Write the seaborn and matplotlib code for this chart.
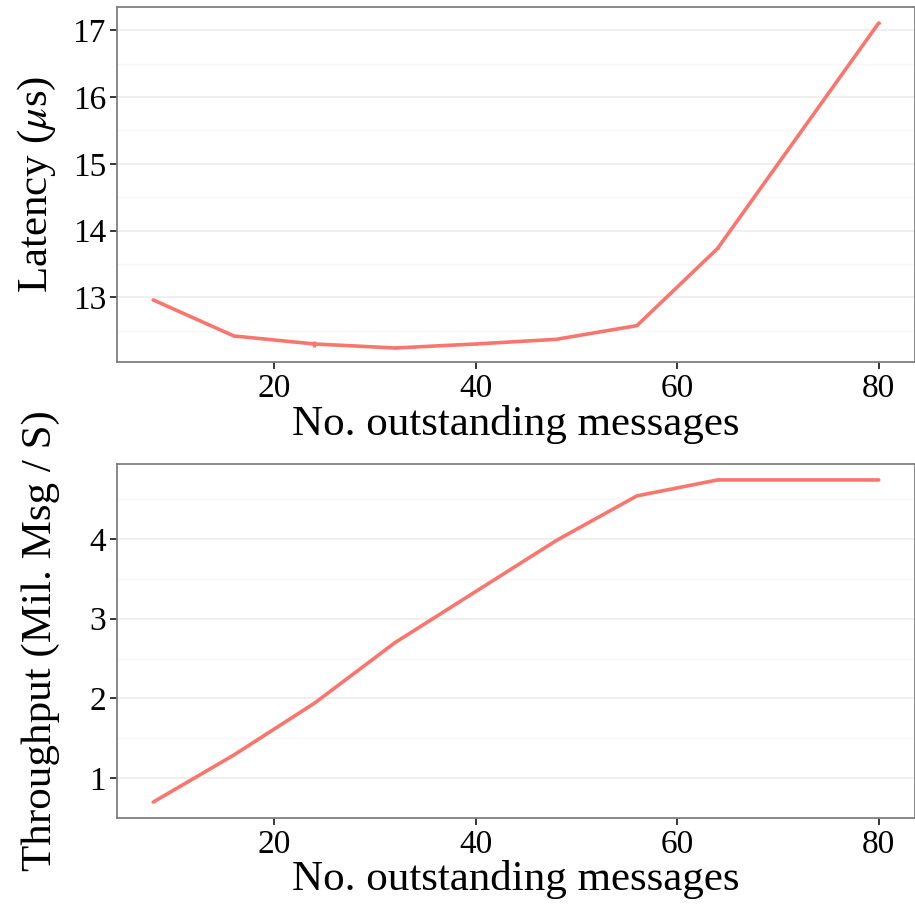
import numpy as np
import pandas as pd
import matplotlib
matplotlib.use("Agg")
import matplotlib.pyplot as plt
import seaborn as sns
from matplotlib.ticker import MultipleLocator

# data
outstanding = [8, 16, 24, 32, 40, 48, 56, 64, 72, 80]
latency_us = [12.96, 12.42, 12.30, 12.24, 12.30, 12.37, 12.575, 13.73, 15.42, 17.11]
latency_err = [0.01, 0.01, 0.04, 0.01, 0.01, 0.01, 0.01, 0.01, 0.01, 0.01]
throughput = [0.70, 1.29, 1.94, 2.70, 3.34, 3.98, 4.54, 4.74, 4.74, 4.74]

df = pd.DataFrame({"msgs": outstanding, "latency": latency_us,
                   "err": latency_err, "tput": throughput})

sns.set_theme(style="white")
plt.rcParams["font.family"] = ["Liberation Serif", "DejaVu Serif"]
plt.rcParams["mathtext.fontset"] = "stix"
plt.rcParams["text.color"] = "black"
plt.rcParams["axes.labelcolor"] = "black"
plt.rcParams["xtick.color"] = "black"
plt.rcParams["ytick.color"] = "black"

line_col = "#F8766D"

fig = plt.figure(figsize=(9.15, 9.08), dpi=100)
ax1 = fig.add_axes([117 / 915, 1 - 362 / 908, 798 / 915, 355 / 908])
ax2 = fig.add_axes([117 / 915, 1 - 818 / 908, 798 / 915, 354 / 908])


def style_axis(ax, ylim):
    ax.set_xlim(4.4, 83.6)
    ax.set_ylim(*ylim)
    ax.xaxis.set_major_locator(MultipleLocator(20))
    ax.yaxis.set_major_locator(MultipleLocator(1))
    ax.yaxis.set_minor_locator(MultipleLocator(0.5))
    ax.grid(which="major", axis="y", color="#EBEBEB", lw=1.1)
    ax.grid(which="minor", axis="y", color="#F7F7F7", lw=0.9)
    ax.set_axisbelow(True)
    for s in ax.spines.values():
        s.set_color("#7F7F7F")
        s.set_linewidth(1.3)
    ax.tick_params(axis="both", which="major", direction="out", length=5,
                   width=1.1, labelsize=24, pad=3, bottom=True, left=True)
    ax.tick_params(axis="y", which="minor", length=0)
    ax.set_xlabel("No. outstanding messages", fontsize=31)
    ax.xaxis.set_label_coords(0.5, -0.12)


# latency panel
ax1.errorbar(df["msgs"], df["latency"], yerr=df["err"], fmt="none",
             ecolor=line_col, elinewidth=2.4, capsize=0)
sns.lineplot(data=df, x="msgs", y="latency", ax=ax1, color=line_col, lw=2.6)
style_axis(ax1, (12.03, 17.35))
ax1.set_ylabel(r"Latency ($\mu$s)", fontsize=31)
ax1.yaxis.set_label_coords(-0.074, 0.5)

# throughput panel
sns.lineplot(data=df, x="msgs", y="tput", ax=ax2, color=line_col, lw=2.6)
style_axis(ax2, (0.5, 4.94))
ax2.set_ylabel("Throughput (Mil. Msg / S)", fontsize=31)
ax2.yaxis.set_label_coords(-0.071, 0.5)

fig.savefig("out.png", dpi=100, facecolor="white")
